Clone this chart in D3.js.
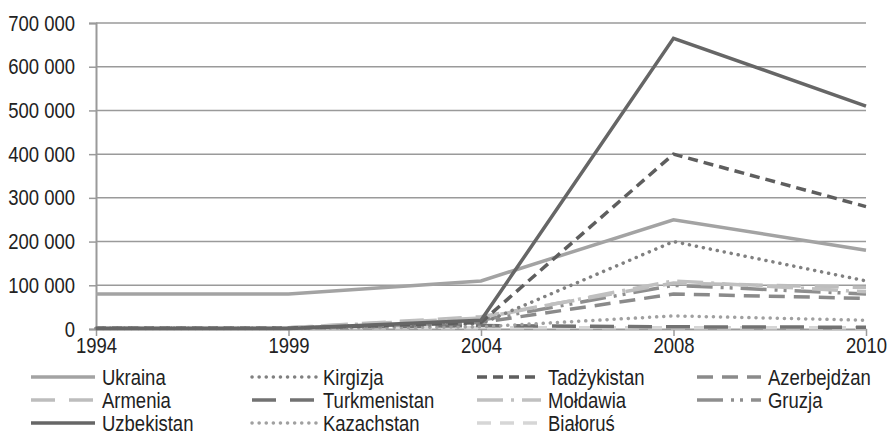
<!DOCTYPE html>
<html><head><meta charset="utf-8">
<script src="https://cdn.jsdelivr.net/npm/d3@7"></script>
<style>body{margin:0;background:#fff}svg{display:block}text{font-family:"Liberation Sans",Arial,sans-serif;fill:#222}</style>
</head><body><svg id="c" width="888" height="435"></svg>
<script>
const years = ["1994","1999","2004","2008","2010"];
const yTicks = [0,100000,200000,300000,400000,500000,600000,700000];
const seriesNames = ["Ukraina","Kirgizja","Tadżykistan","Azerbejdżan","Armenia","Turkmenistan","Mołdawia","Gruzja","Uzbekistan","Kazachstan","Białoruś"];
const ukraina      = [80000, 80000, 110000, 250000, 180000];
const kirgizja     = [2000, 2000, 12000, 200000, 110000];
const tadzykistan  = [2000, 2000, 15000, 400000, 280000];
const azerbejdzan  = [2000, 2000, 15000, 80000, 70000];
const armenia      = [3000, 3000, 28000, 105000, 95000];
const turkmenistan = [3000, 3000, 8000, 5000, 4000];
const moldawia     = [3000, 3000, 25000, 110000, 85000];
const gruzja       = [2000, 2000, 20000, 100000, 80000];
const uzbekistan   = [1000, 1000, 20000, 665000, 510000];
const kazachstan   = [1000, 1000, 5000, 30000, 20000];
const bialorus     = [3000, 3000, 3000, 3000, 3000];
const values = [ukraina,kirgizja,tadzykistan,azerbejdzan,armenia,turkmenistan,moldawia,gruzja,uzbekistan,kazachstan,bialorus];
const styles = [
 {c:"#a3a3a3",w:3.5,d:null},
 {c:"#808080",w:3.5,d:"0.1,7",cap:"round"},
 {c:"#5e5e5e",w:3.5,d:"10,6"},
 {c:"#8a8a8a",w:3.5,d:"16,9"},
 {c:"#bdbdbd",w:3.5,d:"24,14"},
 {c:"#727272",w:3.5,d:"24,14"},
 {c:"#c0c0c0",w:3.5,d:"26,8,3,8"},
 {c:"#8e8e8e",w:3.5,d:"26,8,3,6,3,8"},
 {c:"#666666",w:3.5,d:null},
 {c:"#a0a0a0",w:3.5,d:"0.1,7",cap:"round"},
 {c:"#d6d6d6",w:3.5,d:"14,9"}
];
const FONT = "Liberation Sans, Arial, sans-serif";
const NARROW = 0.84;
function narrow(sel){
  sel.each(function(){
    const w = this.getComputedTextLength();
    d3.select(this).attr("textLength", w*NARROW).attr("lengthAdjust","spacingAndGlyphs");
  });
}
const svg = d3.select("#c");
const m = {l:96, r:22, t:23, b:106};
const W = 888, H = 435;
const x = d3.scalePoint().domain(years).range([m.l, W-m.r]);
const y = d3.scaleLinear().domain([0,700000]).range([H-m.b, m.t]);
const fmt = v => d3.format(",")(v).replace(/,/g," ");
// grid
svg.append("g").selectAll("line").data(yTicks.slice(1)).join("line")
  .attr("x1",m.l).attr("x2",W-m.r).attr("y1",d=>y(d)).attr("y2",d=>y(d))
  .attr("stroke","#9a9a9a").attr("stroke-width",1.5);
// y axis
const ya = svg.append("g").attr("transform",`translate(${m.l},0)`)
  .call(d3.axisLeft(y).tickValues(yTicks).tickFormat(fmt).tickSize(7).tickPadding(14));
ya.select(".domain").attr("stroke","#9a9a9a").attr("stroke-width",2);
ya.selectAll(".tick line").attr("stroke","#9a9a9a").attr("stroke-width",1.5);
ya.selectAll("text").attr("font-size",22).attr("font-family",FONT).attr("fill","#222").call(narrow);
// x axis
const xa = svg.append("g").attr("transform",`translate(0,${y(0)})`)
  .call(d3.axisBottom(x).tickSize(7).tickSizeOuter(0).tickPadding(1));
xa.select(".domain").attr("stroke","#9a9a9a").attr("stroke-width",2);
xa.selectAll(".tick line").attr("stroke","#9a9a9a").attr("stroke-width",1.5);
xa.selectAll("text").attr("font-size",22).attr("font-family",FONT).attr("fill","#222").call(narrow);
// lines
const line = d3.line().x((d,i)=>x(years[i])).y(d=>y(d));
const order = [10,5,9,3,7,4,6,1,0,2,8];
order.forEach(k=>{
  const s = styles[k];
  svg.append("path").datum(values[k]).attr("d",line).attr("fill","none")
    .attr("stroke",s.c).attr("stroke-width",s.w)
    .attr("stroke-dasharray",s.d).attr("stroke-linecap",s.cap||"butt");
});
// legend
const colX = [31,252,477,697];
const rowY = [377,400,423];
seriesNames.forEach((n,i)=>{
  const c = i%4, r = Math.floor(i/4), s = styles[i];
  const g = svg.append("g").attr("transform",`translate(${colX[c]},${rowY[r]})`);
  g.append("line").attr("x1",0).attr("x2",64).attr("y1",0).attr("y2",0)
    .attr("stroke",s.c).attr("stroke-width",s.w).attr("stroke-dasharray",s.d).attr("stroke-linecap",s.cap||"butt");
  g.append("text").attr("x",71).attr("y",8).attr("font-size",22).attr("font-family",FONT).text(n).call(narrow);
});
</script></body></html>
